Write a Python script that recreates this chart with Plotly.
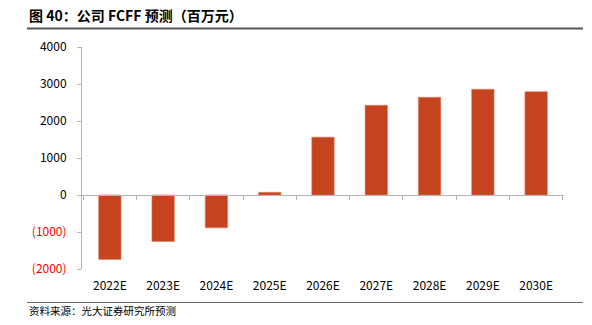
import plotly.graph_objects as go

categories = ["2022E", "2023E", "2024E", "2025E", "2026E", "2027E", "2028E", "2029E", "2030E"]
fcff = [-1740, -1255, -885, 73, 1564, 2423, 2640, 2856, 2792]
ytick_vals = [-2000, -1000, 0, 1000, 2000, 3000, 4000]
ytick_text = ['<span style="color:#FF0000">(2000)</span>', '<span style="color:#FF0000">(1000)</span>',
              "0", "1000", "2000", "3000", "4000"]

W, H = 592, 325
L, R, T, B = 82, 28, 47, 56
pw, ph = W - L - R, H - T - B

def px(x):
    return (x - L) / pw

def py(y):
    return (H - B - y) / ph

font_cn = "Noto Sans CJK SC"
bar_color = "#C5441F"
axis_color = "#B4B4B4"

fig = go.Figure()
fig.add_trace(go.Bar(x=categories, y=fcff, marker=dict(color=bar_color, line=dict(width=0.6, color="#E07A5F")),
                     xaxis="x", yaxis="y", hoverinfo="skip"))
# invisible trace to render the zero-position axis
fig.add_trace(go.Scatter(x=categories, y=[0]*len(categories), mode="markers",
                         marker=dict(opacity=0), xaxis="x2", yaxis="y", hoverinfo="skip", showlegend=False))

fig.update_layout(
    width=W, height=H,
    margin=dict(l=L, r=R, t=T, b=B),
    paper_bgcolor="white", plot_bgcolor="white",
    showlegend=False,
    bargap=0.58,
    font=dict(family=font_cn, size=12, color="#000000"),
    xaxis=dict(
        type="category", categoryorder="array", categoryarray=categories,
        showline=False, showgrid=False, zeroline=False,
        ticks="outside", ticklen=6, tickcolor="rgba(0,0,0,0)",
        tickfont=dict(size=12, family=font_cn, color="#000000"),
    ),
    xaxis2=dict(
        type="category", categoryorder="array", categoryarray=categories,
        matches="x", overlaying="x", anchor="free",
        position=py(H - B - 74),
        showline=True, linecolor=axis_color, linewidth=1,
        ticks="outside", tickson="boundaries", ticklen=4, tickcolor=axis_color,
        showticklabels=False, showgrid=False, zeroline=False,
    ),
    yaxis=dict(
        range=[-2000, 4000], tickvals=ytick_vals, ticktext=ytick_text,
        showline=True, linecolor=axis_color, linewidth=1,
        ticks="outside", ticklen=4, tickcolor=axis_color,
        showgrid=False, zeroline=False,
        tickfont=dict(size=12, family=font_cn, color="#000000"),
        ticklabelstandoff=8,
    ),
    annotations=[
        dict(text="<b>图 40：公司 FCFF 预测（百万元）</b>", x=px(27), y=py(15), xref="paper", yref="paper",
             xanchor="left", yanchor="middle", showarrow=False,
             font=dict(size=14, family=font_cn, color="#000000")),
        dict(text="资料来源：光大证券研究所预测", x=px(27), y=py(310), xref="paper", yref="paper",
             xanchor="left", yanchor="middle", showarrow=False,
             font=dict(size=10.5, family=font_cn, color="#000000")),
    ],
    shapes=[
        dict(type="line", xref="paper", yref="paper", x0=px(27), x1=px(583), y0=py(28.5), y1=py(28.5),
             line=dict(color="#555555", width=2)),
        dict(type="line", xref="paper", yref="paper", x0=px(27), x1=px(583), y0=py(302.5), y1=py(302.5),
             line=dict(color="#666666", width=1)),
    ],
)

fig.write_html("out.html")
